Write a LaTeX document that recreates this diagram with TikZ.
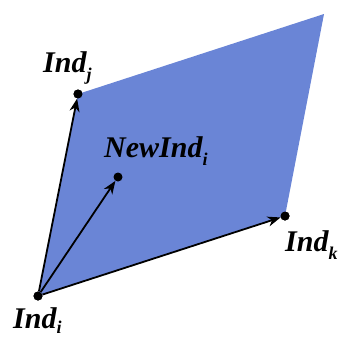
\documentclass[tikz,border=0pt]{standalone}
\usepackage{fontspec}
\setmainfont{Liberation Serif}
\usetikzlibrary{arrows.meta}
\definecolor{planeblue}{RGB}{106,133,214}
\tikzset{
  pt/.style={circle,fill=black,inner sep=0pt,minimum size=9pt},
  vec/.style={line width=1.8pt,-{Stealth[length=13pt,width=10pt,inset=4pt]}},
  lbl/.style={inner sep=0pt,anchor=base west,font=\fontsize{30}{30}\selectfont\bfseries\itshape},
}
\newcommand{\sbs}[2][8pt]{\raisebox{-#1}{\fontsize{18}{18}\selectfont #2}}
\begin{document}
\begin{tikzpicture}[x=1pt,y=-1pt]
\useasboundingbox (0,0) rectangle (342,338);
\coordinate (tr) at (324,14);
\node[pt] (i) at (38,296) {};
\node[pt] (j) at (78,94) {};
\node[pt] (n) at (118,177) {};
\node[pt] (k) at (285,216) {};
\fill[planeblue] (i.center) -- (j.center) -- (tr) -- (k.center) -- cycle;
\node[pt] at (i) {};
\node[pt] at (j) {};
\node[pt] at (n) {};
\node[pt] at (k) {};
\draw[vec] (i) -- (j);
\draw[vec] (i) -- (n);
\draw[vec] (i) -- (k);
\node[lbl] (lj) at (43,72) {Ind\sbs{j}};
\node[lbl] (ln) at (104,157) {NewInd\sbs{i}};
\node[lbl] (lk) at (285,251) {Ind\sbs{k}};
\node[lbl] (li) at (13,328) {Ind\sbs[5pt]{i}};
\end{tikzpicture}
\end{document}
